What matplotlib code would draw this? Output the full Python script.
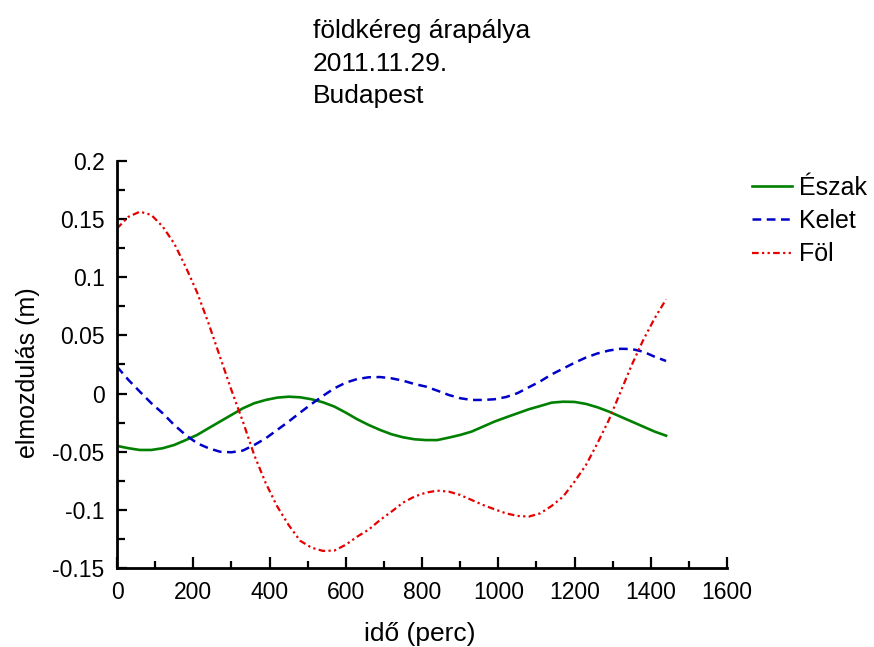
import matplotlib.pyplot as plt
from matplotlib.ticker import MultipleLocator, FormatStrFormatter

plt.rcParams['font.family'] = ['Liberation Sans', 'DejaVu Sans']
plt.rcParams['axes.unicode_minus'] = False

# Data (every 30 minutes)
ido = list(range(0, 1441, 30))
eszak = [-0.045, -0.047, -0.0485, -0.0485, -0.047, -0.0442, -0.040, -0.0356, -0.0298,
         -0.0241, -0.0184, -0.0127, -0.0083, -0.0055, -0.0035, -0.0027, -0.0032, -0.0049,
         -0.0075, -0.0112, -0.0164, -0.0221, -0.027, -0.0313, -0.035, -0.0376, -0.0393,
         -0.040, -0.040, -0.0379, -0.0356, -0.0327, -0.0284, -0.0241, -0.0205, -0.017,
         -0.0135, -0.0107, -0.0078, -0.007, -0.0072, -0.0089, -0.0118, -0.0155, -0.0198,
         -0.0241, -0.0284, -0.0327, -0.0362]
kelet = [0.0231, 0.0117, 0.0016, -0.0083, -0.017, -0.027, -0.0356, -0.0427, -0.047,
         -0.050, -0.0505, -0.049, -0.0442, -0.0385, -0.0313, -0.0241, -0.0164, -0.009,
         -0.002, 0.0045, 0.0094, 0.0125, 0.014, 0.0142, 0.0131, 0.0111, 0.0082,
         0.006, 0.0025, -0.0012, -0.004, -0.0055, -0.0055, -0.0049, -0.003, 0.0003,
         0.0054, 0.0105, 0.0165, 0.0215, 0.0265, 0.031, 0.0345, 0.037, 0.0385,
         0.0383, 0.036, 0.0317, 0.028]
fol = [0.142, 0.152, 0.1564, 0.1536, 0.1435, 0.129, 0.109, 0.087, 0.0604,
       0.0317, 0.003, -0.024, -0.053, -0.077, -0.097, -0.113, -0.1265, -0.1325,
       -0.1353, -0.135, -0.130, -0.123, -0.117, -0.1087, -0.1015, -0.0938, -0.0886,
       -0.0852, -0.0835, -0.0843, -0.0872, -0.0915, -0.0958, -0.0995, -0.103, -0.1052,
       -0.1058, -0.103, -0.0966, -0.0886, -0.0757, -0.0614, -0.0427, -0.0227, 0.001,
       0.0246, 0.046, 0.0647, 0.081]

fig = plt.figure(figsize=(8.74, 6.47), dpi=100)
ax = fig.add_axes([0.1339, 0.1221, 0.698, 0.6291])

ax.plot(ido, eszak, color='#008000', lw=1.9, label='Észak')
ax.plot(ido, kelet, color='#0000c8', lw=1.8, ls=(0, (3.5, 2.2)), label='Kelet')
ax.plot(ido, fol, color='#e60000', lw=1.6, ls=(0, (3, 1.5, 1, 1.5, 1, 1.5)), label='Föl')

ax.set_xlim(0, 1600)
ax.set_ylim(-0.15, 0.2)
ax.xaxis.set_major_locator(MultipleLocator(200))
ax.xaxis.set_minor_locator(MultipleLocator(100))
ax.yaxis.set_major_locator(MultipleLocator(0.05))
ax.yaxis.set_minor_locator(MultipleLocator(0.025))
ax.yaxis.set_major_formatter(FormatStrFormatter('%g'))

for s in ['top', 'right']:
    ax.spines[s].set_visible(False)
for s in ['left', 'bottom']:
    ax.spines[s].set_linewidth(2)

ax.tick_params(which='both', direction='in', width=1.6, labelsize=16.5)
ax.tick_params(axis='y', which='major', length=7, pad=9)
ax.tick_params(axis='y', which='minor', length=6)
ax.tick_params(axis='x', which='major', length=8, pad=9)
ax.tick_params(axis='x', which='minor', length=5)

ax.set_xlabel('idő (perc)', fontsize=19)
ax.xaxis.set_label_coords(0.497, -0.133)
ax.set_ylabel('elmozdulás (m)', fontsize=18)
ax.yaxis.set_label_coords(-0.127, 0.48)

fig.text(0.358, 0.970, 'földkéreg árapálya\n2011.11.29.\nBudapest',
         fontsize=19, ha='left', va='top', linespacing=1.43)

fig.legend(loc='upper left', bbox_to_anchor=(0.860, 0.728), frameon=False,
           fontsize=18, handlelength=1.63, handletextpad=0.25, labelspacing=0.37,
           borderpad=0, borderaxespad=0)

plt.savefig('out.png', dpi=100)
